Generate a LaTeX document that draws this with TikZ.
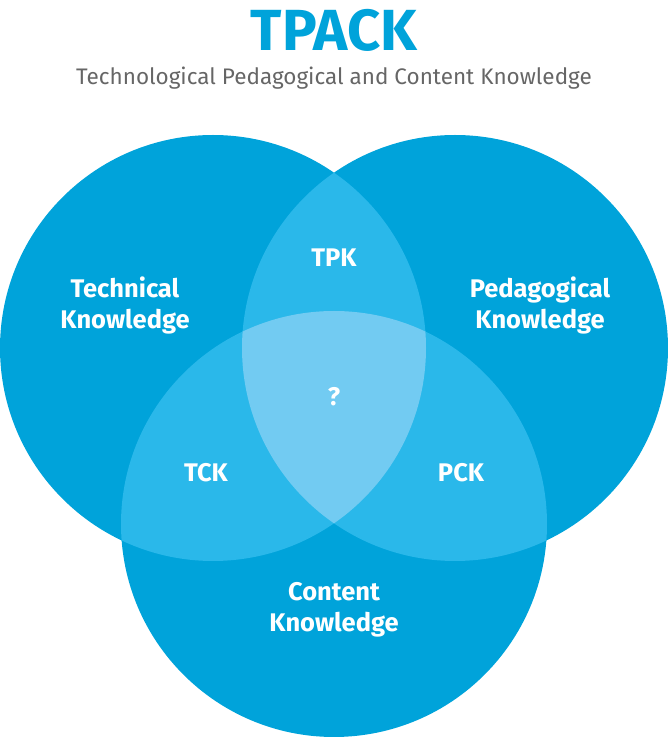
\documentclass[tikz,border=0pt]{standalone}
\usepackage{fontspec}
\setmainfont{Fira Sans}
\usetikzlibrary{positioning}
\definecolor{tpackblue}{HTML}{00A3DA}
\definecolor{tpackmid}{HTML}{2AB8EA}
\definecolor{tpacklight}{HTML}{72CBF2}
\definecolor{tpackgrey}{HTML}{666666}

\begin{document}
\begin{tikzpicture}[x=1pt, y=1pt,
    lbl/.style={text=white, font=\bfseries\fontsize{25.5}{31}\selectfont,
        align=center, inner sep=0pt}]
    \useasboundingbox (0,0) rectangle (668,737);
    \coordinate (cT) at (213,389);
    \coordinate (cP) at (455,389);
    \coordinate (cC) at (334,213);
    % the three circles
    \fill[tpackblue] (cT) circle[radius=213];
    \fill[tpackblue] (cP) circle[radius=213];
    \fill[tpackblue] (cC) circle[radius=213];
    % pairwise overlaps
    \begin{scope}
      \clip (cT) circle[radius=213];
      \fill[tpackmid] (cP) circle[radius=213];
      \fill[tpackmid] (cC) circle[radius=213];
    \end{scope}
    \begin{scope}
      \clip (cP) circle[radius=213];
      \fill[tpackmid] (cC) circle[radius=213];
    \end{scope}
    % centre
    \begin{scope}
      \clip (cT) circle[radius=213];
      \clip (cP) circle[radius=213];
      \fill[tpacklight] (cC) circle[radius=213];
    \end{scope}
    % titles
    \node[text=tpackblue, font=\bfseries\fontsize{58}{64}\selectfont,
        inner sep=0pt] (title) at (334,707) {TPACK};
    \node[text=tpackgrey, font=\fontsize{22.5}{27}\selectfont,
        inner sep=0pt] (subtitle) at (334,659)
        {Technological Pedagogical and Content Knowledge};
    % labels
    \node[lbl] (tk) at (125,432) {Technical\\Knowledge};
    \node[lbl] (pk) at (540,432) {Pedagogical\\Knowledge};
    \node[lbl] (ck) at (334,127) {Content\\Knowledge};
    \node[lbl] (tpk) at (334,479) {TPK};
    \node[lbl] (tck) at (206,264) {TCK};
    \node[lbl] (pck) at (461,264) {PCK};
    \node[lbl] (tpck) at (334,340) {?};
\end{tikzpicture}
\end{document}
